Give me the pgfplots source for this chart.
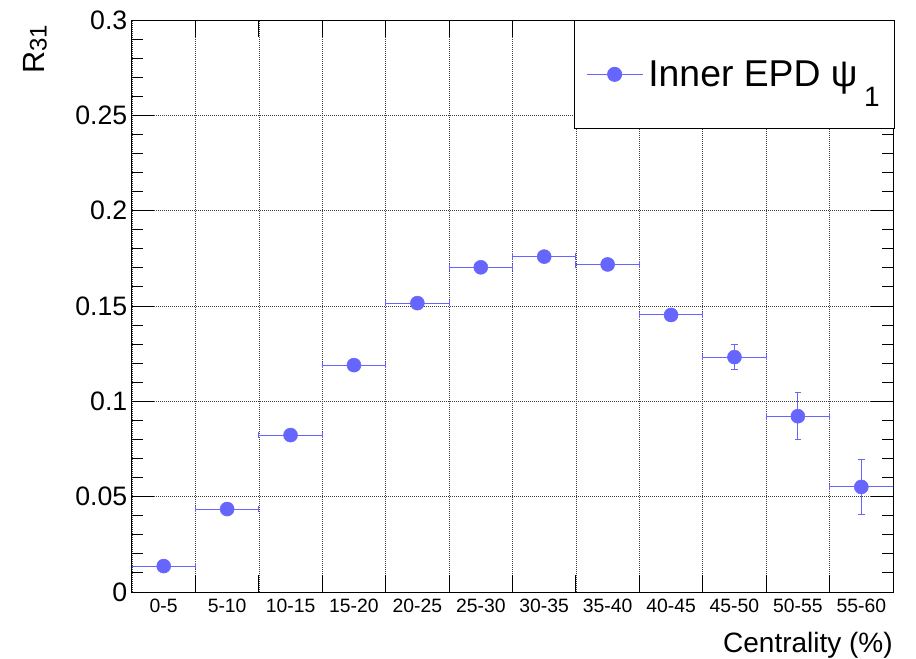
\documentclass[border=0pt]{standalone}
\usepackage{fontspec}
\setmainfont{Liberation Sans}
\usepackage{pgfplots}
\pgfplotsset{compat=1.18}
\definecolor{ptcol}{RGB}{102,102,255}

\pgfplotstableread{
x y ex ey
0.5 0.0136 0.5 0
1.5 0.0435 0.5 0
2.5 0.0823 0.5 0.001
3.5 0.1190 0.5 0.001
4.5 0.1515 0.5 0.001
5.5 0.1703 0.5 0.001
6.5 0.1759 0.5 0.0015
7.5 0.1718 0.5 0.0015
8.5 0.1453 0.5 0.002
9.5 0.1232 0.5 0.0067
10.5 0.0922 0.5 0.0124
11.5 0.0551 0.5 0.0142
}\ratio

\begin{document}
\begin{tikzpicture}
\path (-99pt,-49.5pt) rectangle (588pt,444pt);
\begin{axis}[
  at={(0,0)}, anchor=south west,
  scale only axis,
  width=570.75pt, height=429pt,
  xmin=0, xmax=12, ymin=0, ymax=0.3,
  axis line style={line width=0.75pt},
  xtick={0,...,12},
  x tick label as interval,
  xticklabels={0-5,5-10,10-15,15-20,20-25,25-30,30-35,35-40,40-45,45-50,50-55,55-60},
  ytick={0,0.05,...,0.3},
  minor y tick num=4,
  tick align=inside,
  tick pos=both,
  tick style={black, line width=0.75pt},
  xtick style={/pgfplots/major tick length=12.75pt},
  ytick style={/pgfplots/major tick length=16.5pt},
  minor tick length=8.25pt,
  grid=major,
  grid style={black!75, line width=0.5pt, dash pattern=on 0.75pt off 0.75pt},
  /pgf/number format/assume math mode=true,
  /pgf/number format/fixed,
  /pgf/number format/precision=2,
  yticklabel style={font=\fontsize{20}{21}\selectfont},
  xticklabel style={font=\fontsize{14.5}{15}\selectfont, yshift=-1.5pt},
  xlabel={Centrality (\%)},
  xlabel style={font=\fontsize{21}{22}\selectfont, at={(rel axis cs:1,0)}, anchor=base east, inner sep=0pt, yshift=-45pt},
  ylabel={R\raisebox{-2pt}{\fontsize{18}{18}\selectfont 31}},
  ylabel style={font=\fontsize{23}{24}\selectfont, at={(rel axis cs:-0.1275,0.992)}, anchor=east, inner sep=0pt},
  legend style={at={(rel axis cs:1.0026,1)}, anchor=north east, draw=black, line width=0.75pt,
    inner xsep=9pt, inner ysep=28pt, font=\fontsize{28}{30}\selectfont},
  legend cell align=left,
  legend image code/.code={
    \draw[ptcol, line width=0.6pt] (0pt,0pt) -- (42pt,0pt);
    \fill[ptcol] (21pt,0pt) circle (5.25pt);
  },
]
\addplot[ptcol, only marks, mark=*, mark size=5.25pt,
  mark options={fill=ptcol, draw=ptcol},
  error bars/.cd, x dir=both, x explicit, y dir=both, y explicit,
  error bar style={ptcol, line width=0.75pt},
  error mark options={ptcol, line width=0.75pt, mark size=2.5pt, rotate=90}]
  table[x=x, y=y, x error=ex, y error=ey] {\ratio};
\addlegendentry{\hspace{2pt}Inner EPD ψ\hspace{5pt}\raisebox{-15pt}{\fontsize{21}{21}\selectfont 1}}
\end{axis}
\end{tikzpicture}
\end{document}
